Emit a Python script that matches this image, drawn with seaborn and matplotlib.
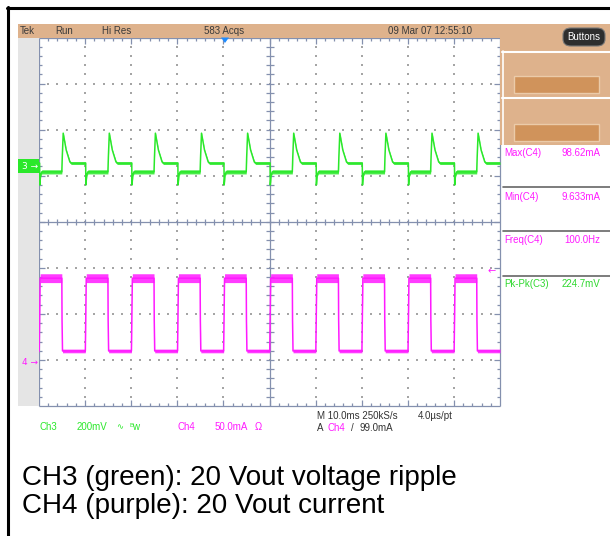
import numpy as np
import pandas as pd
import matplotlib
matplotlib.use("Agg")
import matplotlib.pyplot as plt
import seaborn as sns
from matplotlib.patches import Rectangle, FancyBboxPatch, Polygon
from matplotlib.collections import LineCollection

# ---------------- data ----------------
period_starts_ms = [0, 10, 20, 30, 40, 50, 60, 70, 80, 90]

# CH3 (green) – one period: time in period (ms), level (mV), noise half-width (mV)
ch3_t = [0.0, 0.12, 0.17, 0.35, 0.6, 4.95, 5.05, 5.25, 5.9, 6.7, 7.0, 10.0]
ch3_mv = [13, 13, -82, -40, -25, -25, 40, 143, 70, 18, 13, 13]
ch3_noise_mv = [6, 5, 3, 5, 9, 9, 3, 3, 3, 5, 6, 6]

# CH4 (purple) – one period: time in period (ms), level (mA), noise half-width (mA)
ch4_t = [0.0, 0.05, 0.25, 4.95, 5.0, 5.1, 10.0]
ch4_ma = [13, 13, 92, 92, 46, 13, 13]
ch4_noise_ma = [2, 2, 4.8, 4.8, 1, 2, 2]

header_labels = ["Tek", "Run", "Hi Res", "583 Acqs", "09 Mar 07 12:55:10"]
meas_names = ["Max(C4)", "Min(C4)", "Freq(C4)", "Pk-Pk(C3)"]
meas_values = ["98.62mA", "9.633mA", "100.0Hz", "224.7mV"]
footer_lines = ["CH3 (green): 20 Vout voltage ripple", "CH4 (purple): 20 Vout current"]

# scope settings
ch3_scale, ch3_offset = 200.0, 1.208     # mV/div, marker position (div)
ch4_scale, ch4_offset = 50.0, -3.065     # mA/div
trig_level_ma = 99.0

GREEN = "#2AE82A"
MAG = "#FF1AFF"
TAN = "#DEB28C"
GRID = "#8490AE"

sns.set_style("white")
plt.rcParams["font.family"] = ["Liberation Sans", "DejaVu Sans"]

W, H = 610, 536
fig = plt.figure(figsize=(W / 100, H / 100), dpi=100)
fig.patch.set_facecolor("white")


def rect(x0, y0, x1, y1, **kw):
    r = Rectangle((x0 / W, 1 - y1 / H), (x1 - x0) / W, (y1 - y0) / H,
                  transform=fig.transFigure, **kw)
    fig.add_artist(r)
    return r


def txt(x, y, s, **kw):
    kw.setdefault("va", "center")
    kw.setdefault("ha", "left")
    fig.text(x / W, 1 - y / H, s, **kw)


def hline(x0, x1, y, **kw):
    fig.add_artist(plt.Line2D([x0 / W, x1 / W], [1 - y / H, 1 - y / H],
                              transform=fig.transFigure, **kw))


def vline(x, y0, y1, **kw):
    fig.add_artist(plt.Line2D([x / W, x / W], [1 - y0 / H, 1 - y1 / H],
                              transform=fig.transFigure, **kw))


# outer border
hline(7, 610, 7.5, color="black", lw=2.2)
vline(7.5, 7, 536, color="black", lw=2.2)

# header bar
rect(18, 24, 610, 37.5, color=TAN, lw=0)
hx = [20, 55, 102, 204, 388]
for x, s in zip(hx, header_labels):
    txt(x, 31, s, fontsize=7, color="#3A3A3A")

# left gray strip
rect(18, 37.5, 39, 406, color="#E5E5E5", lw=0)

# right panel
rect(500, 37.5, 610, 145, color=TAN, lw=0)
hline(502, 610, 51.5, color="white", lw=1.5)
hline(502, 610, 98, color="white", lw=1.5)
vline(502.5, 51, 145, color="white", lw=1.2)
for (y0, y1) in [(76, 93), (124, 141)]:
    rect(514, y0, 599, y1, facecolor="#D0935B", edgecolor="#EBCBA9", lw=1.0)
bb = FancyBboxPatch((563 / W, 1 - 46 / H), 42 / W, 18 / H,
                    boxstyle="round,pad=0,rounding_size=0.013",
                    transform=fig.transFigure, facecolor="#2E2E2E",
                    edgecolor="#777777", lw=0.8)
fig.add_artist(bb)
txt(584, 37, "Buttons", fontsize=7, color="white", ha="center")

# measurement panel
for y in [187, 231, 276]:
    hline(503, 610, y, color="#666666", lw=1.2)
meas_y = [153, 197, 240, 284]
meas_col = [MAG, MAG, MAG, "#2FD82F"]
for y, n, v, c in zip(meas_y, meas_names, meas_values, meas_col):
    txt(504, y, n, fontsize=7, color=c)
    txt(600, y, v, fontsize=7, color=c, ha="right")

# ---------------- graticule axes ----------------
ax = fig.add_axes([39 / W, 1 - 406 / H, 461 / W, 368.5 / H])
ax.set_xlim(0, 100)
ax.set_ylim(-4, 4)
ax.axis("off")

px_x = 100 / 461.0   # ms per pixel
px_y = 8 / 368.5     # div per pixel

# dots on major division lines
dx, dy = [], []
for xm in [10, 20, 30, 40, 60, 70, 80, 90]:
    for yy in np.arange(-3.8, 3.81, 0.2):
        dx.append(xm); dy.append(yy)
for ym in [-3, -2, -1, 1, 2, 3]:
    for xx in np.arange(2, 99, 2):
        dx.append(xx); dy.append(ym)
ax.scatter(dx, dy, s=1.0, marker="s", color="#A5A5A5", linewidths=0, zorder=1)

segs = []
# frame
segs += [[(0, -4), (100, -4)], [(0, 4), (100, 4)], [(0, -4), (0, 4)], [(100, -4), (100, 4)]]
# center lines
segs += [[(0, 0), (100, 0)], [(50, -4), (50, 4)]]
for xx in np.arange(2, 99, 2):
    major = abs(xx / 10 - round(xx / 10)) < 1e-6
    L = (6 if major else 3) * px_y
    segs.append([(xx, 4), (xx, 4 - L)])
    segs.append([(xx, -4), (xx, -4 + L)])
    segs.append([(xx, -3 * px_y), (xx, 3 * px_y)])
for yy in np.arange(-3.8, 3.81, 0.2):
    major = abs(yy - round(yy)) < 1e-6
    L = (6 if major else 3) * px_x
    segs.append([(0, yy), (L, yy)])
    segs.append([(100, yy), (100 - L, yy)])
    segs.append([(50 - 4 * px_x, yy), (50 + 4 * px_x, yy)])
ax.add_collection(LineCollection(segs, colors=GRID, linewidths=0.9, zorder=2, clip_on=False))


# ---------------- traces ----------------
def build(t, v, n, scale, offset):
    tt = np.concatenate([np.array(t) + s for s in period_starts_ms])
    vv = np.concatenate([np.array(v, float) for _ in period_starts_ms])
    nn = np.concatenate([np.array(n, float) for _ in period_starts_ms])
    return pd.DataFrame({"t": tt, "y": vv / scale + offset,
                         "lo": (vv - nn) / scale + offset,
                         "hi": (vv + nn) / scale + offset})


df3 = build(ch3_t, ch3_mv, ch3_noise_mv, ch3_scale, ch3_offset)
df4 = build(ch4_t, ch4_ma, ch4_noise_ma, ch4_scale, ch4_offset)

for df, c in [(df3, GREEN), (df4, MAG)]:
    ax.fill_between(df["t"], df["lo"], df["hi"], color=c, lw=0, alpha=0.85, zorder=3)
    sns.lineplot(data=df, x="t", y="y", ax=ax, color=c, lw=1.1, sort=False,
                 estimator=None, legend=False, zorder=4)
ax.set_xlim(0, 100)
ax.set_ylim(-4, 4)
ax.axis("off")

# channel markers
y3 = 221.7 - ch3_offset * 46.06
rect(18, y3 - 7, 39, y3 + 7, color=GREEN, lw=0)
txt(22, y3, "3 →", fontsize=6.5, color="white", family=["DejaVu Sans"])
y4 = 221.7 - ch4_offset * 46.06
txt(22, y4, "4 →", fontsize=6.5, color=MAG, family=["DejaVu Sans"])
yt = 221.7 - (ch4_offset + trig_level_ma / ch4_scale) * 46.06
txt(488, yt, "←", fontsize=7, color=MAG, family=["DejaVu Sans"])
tri = Polygon([(221 / W, 1 - 37.5 / H), (229 / W, 1 - 37.5 / H), (225 / W, 1 - 43 / H)],
              closed=True, transform=fig.transFigure, color="#1E8CFF", lw=0)
fig.add_artist(tri)

# status line
txt(40, 427, "Ch3", fontsize=7, color=GREEN)
txt(77, 427, "200mV", fontsize=7, color=GREEN)
txt(116, 427, "∿", fontsize=6, color=GREEN, family=["DejaVu Sans"])
txt(129, 425.5, "B", fontsize=4.5, color=GREEN)
txt(132, 427.5, "w", fontsize=7, color=GREEN)
txt(178, 427, "Ch4", fontsize=7, color=MAG)
txt(215, 427, "50.0mA", fontsize=7, color=MAG)
txt(255, 427, "Ω", fontsize=7, color=MAG)
txt(317, 416, "M 10.0ms 250kS/s", fontsize=7, color="#333333")
txt(418, 416, "4.0µs/pt", fontsize=7, color="#333333")
txt(317, 428, "A", fontsize=7, color="#333333")
txt(328, 428, "Ch4", fontsize=7, color=MAG)
txt(351, 428, "/", fontsize=7, color="#333333")
txt(359, 428, "99.0mA", fontsize=7, color="#333333")

# footer
txt(22, 478, footer_lines[0], fontsize=20, color="black")
txt(22, 506, footer_lines[1], fontsize=20, color="black")

fig.savefig("out.png", dpi=100)
